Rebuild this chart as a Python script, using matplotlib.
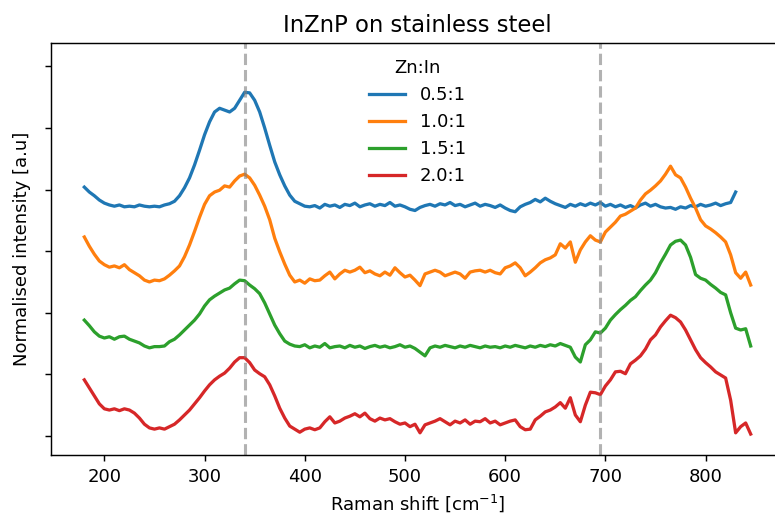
import numpy as np
import matplotlib
matplotlib.use("Agg")
import matplotlib.pyplot as plt

# Raman shift grid (cm^-1), 5 cm^-1 steps
shift = np.arange(180, 850, 5)
shift_05 = np.arange(180, 835, 5)  # 0.5:1 spectrum stops a bit earlier

labels = ["0.5:1", "1.0:1", "1.5:1", "2.0:1"]

# normalised spectra, already stacked with offsets
zn05 = [4.04, 3.96, 3.90, 3.83, 3.78, 3.75, 3.73, 3.75, 3.72, 3.73,
        3.72, 3.75, 3.73, 3.72, 3.73, 3.72, 3.75, 3.77, 3.81, 3.90,
        4.03, 4.19, 4.40, 4.64, 4.89, 5.10, 5.26, 5.32, 5.29, 5.26,
        5.32, 5.45, 5.58, 5.57, 5.45, 5.26, 5.00, 4.72, 4.45, 4.24,
        4.06, 3.91, 3.81, 3.77, 3.73, 3.72,
        3.74, 3.70, 3.76, 3.73, 3.75, 3.71, 3.76, 3.74, 3.78, 3.72,
        3.75, 3.77, 3.73, 3.76, 3.74, 3.79, 3.73, 3.75, 3.72, 3.68,
        3.66, 3.71, 3.74, 3.76, 3.73, 3.77, 3.75, 3.79, 3.74, 3.76,
        3.72, 3.75, 3.78, 3.73, 3.76, 3.74, 3.71, 3.75, 3.70, 3.66,
        3.64, 3.72, 3.76, 3.79, 3.84, 3.80, 3.86, 3.81, 3.77, 3.74,
        3.71, 3.76, 3.73, 3.77, 3.74, 3.78, 3.75, 3.79, 3.73, 3.76,
        3.72, 3.75, 3.71, 3.74, 3.70, 3.75, 3.78, 3.73, 3.76, 3.72,
        3.70, 3.71, 3.68, 3.72, 3.70, 3.74, 3.72, 3.76, 3.73, 3.75,
        3.78, 3.74, 3.77, 3.79, 3.96]

zn10 = [3.23, 3.08, 2.95, 2.84, 2.78, 2.74, 2.76, 2.73, 2.78, 2.70,
        2.65, 2.60, 2.53, 2.50, 2.53, 2.52, 2.55, 2.61, 2.68, 2.76,
        2.91, 3.10, 3.32, 3.55, 3.76, 3.90, 3.96, 3.99, 4.06, 4.04,
        4.14, 4.22, 4.25, 4.19, 4.07, 3.91, 3.73, 3.51, 3.21, 2.99,
        2.79, 2.61, 2.50, 2.53, 2.48, 2.55, 2.52, 2.53, 2.60, 2.66,
        2.55, 2.63, 2.69, 2.66, 2.69, 2.74, 2.65, 2.68, 2.63, 2.60,
        2.66, 2.61, 2.73, 2.65, 2.58, 2.61, 2.53, 2.44, 2.63, 2.66,
        2.69, 2.66, 2.60, 2.63, 2.66, 2.63, 2.56, 2.66, 2.68, 2.69,
        2.66, 2.69, 2.65, 2.63, 2.73, 2.76, 2.81, 2.73, 2.60, 2.66,
        2.73, 2.81, 2.86, 2.89, 2.94, 3.12, 3.05, 3.15, 2.82, 3.02,
        3.15, 3.25, 3.18, 3.15, 3.31, 3.39, 3.47, 3.57, 3.60, 3.65,
        3.70, 3.83, 3.93, 3.99, 4.06, 4.14, 4.25, 4.38, 4.24, 4.19,
        4.04, 3.86, 3.70, 3.51, 3.41, 3.36, 3.30, 3.23, 3.15, 2.94,
        2.65, 2.56, 2.66, 2.45]

zn15 = [1.88, 1.79, 1.69, 1.62, 1.59, 1.61, 1.57, 1.61, 1.62, 1.57,
        1.54, 1.51, 1.46, 1.43, 1.45, 1.45, 1.46, 1.53, 1.57, 1.64,
        1.72, 1.80, 1.88, 1.98, 2.11, 2.21, 2.27, 2.32, 2.37, 2.40,
        2.47, 2.53, 2.52, 2.45, 2.39, 2.31, 2.16, 1.98, 1.80, 1.66,
        1.54, 1.49, 1.46, 1.45, 1.48, 1.43, 1.46, 1.44, 1.50, 1.43,
        1.45, 1.46, 1.43, 1.47, 1.44, 1.46, 1.42, 1.45, 1.47, 1.44,
        1.46, 1.43, 1.45, 1.48, 1.44, 1.46, 1.42, 1.36, 1.30, 1.43,
        1.46, 1.44, 1.47, 1.45, 1.43, 1.46, 1.44, 1.47, 1.45, 1.43,
        1.46, 1.44, 1.45, 1.43, 1.46, 1.44, 1.47, 1.45, 1.43, 1.46,
        1.44, 1.47, 1.45, 1.48, 1.46, 1.50, 1.47, 1.44, 1.28, 1.20,
        1.48, 1.56, 1.69, 1.67, 1.75, 1.88, 1.97, 2.05, 2.12, 2.20,
        2.26, 2.36, 2.45, 2.53, 2.65, 2.81, 2.95, 3.10, 3.16, 3.18,
        3.10, 2.90, 2.62, 2.56, 2.53, 2.46, 2.40, 2.33, 2.29, 2.00,
        1.75, 1.72, 1.74, 1.46]

zn20 = [0.91, 0.78, 0.65, 0.52, 0.44, 0.42, 0.44, 0.41, 0.44, 0.42,
        0.37, 0.29, 0.19, 0.13, 0.11, 0.13, 0.11, 0.15, 0.19, 0.26,
        0.34, 0.42, 0.52, 0.62, 0.73, 0.83, 0.91, 0.97, 1.02, 1.10,
        1.20, 1.27, 1.27, 1.19, 1.07, 1.01, 0.96, 0.83, 0.65, 0.45,
        0.29, 0.16, 0.11, 0.06, 0.11, 0.13, 0.10, 0.13, 0.23, 0.31,
        0.21, 0.24, 0.29, 0.32, 0.36, 0.31, 0.37, 0.28, 0.24, 0.29,
        0.26, 0.28, 0.23, 0.19, 0.21, 0.15, 0.19, 0.05, 0.18, 0.21,
        0.24, 0.28, 0.23, 0.18, 0.24, 0.21, 0.26, 0.19, 0.24, 0.23,
        0.28, 0.21, 0.24, 0.18, 0.21, 0.24, 0.26, 0.15, 0.10, 0.11,
        0.26, 0.32, 0.39, 0.42, 0.47, 0.54, 0.45, 0.62, 0.34, 0.23,
        0.50, 0.71, 0.70, 0.67, 0.81, 0.91, 1.04, 1.05, 1.01, 1.17,
        1.23, 1.30, 1.41, 1.56, 1.64, 1.77, 1.87, 1.96, 1.92, 1.85,
        1.72, 1.56, 1.40, 1.27, 1.19, 1.12, 1.04, 0.99, 0.94, 0.58,
        0.05, 0.15, 0.21, 0.03]

# reference band positions (cm^-1)
bands = [340, 695]

fig = plt.figure(figsize=(775 / 130, 513 / 130), dpi=130)
# axes run past the right edge of the canvas
ax = fig.add_axes([51 / 775, 58 / 513, 733 / 775, 412 / 513])

lw = 1.8
ax.plot(shift_05, zn05, lw=lw, label=labels[0])
ax.plot(shift, zn10, lw=lw, label=labels[1])
ax.plot(shift, zn15, lw=lw, label=labels[2])
ax.plot(shift, zn20, lw=lw, label=labels[3])

for b in bands:
    ax.axvline(b, color="grey", linestyle="--", lw=1.7, alpha=0.6)

ax.set_ylim(-0.31, 6.38)
ax.set_yticks(range(7))
ax.set_yticklabels([])

ax.set_title("InZnP on stainless steel", fontsize=12.6)
ax.set_xlabel("Raman shift [cm$^{-1}$]")
ax.set_ylabel("Normalised intensity [a.u]")
ax.legend(title="Zn:In", loc="upper center", frameon=False)

fig.savefig("out.png", dpi=130)
